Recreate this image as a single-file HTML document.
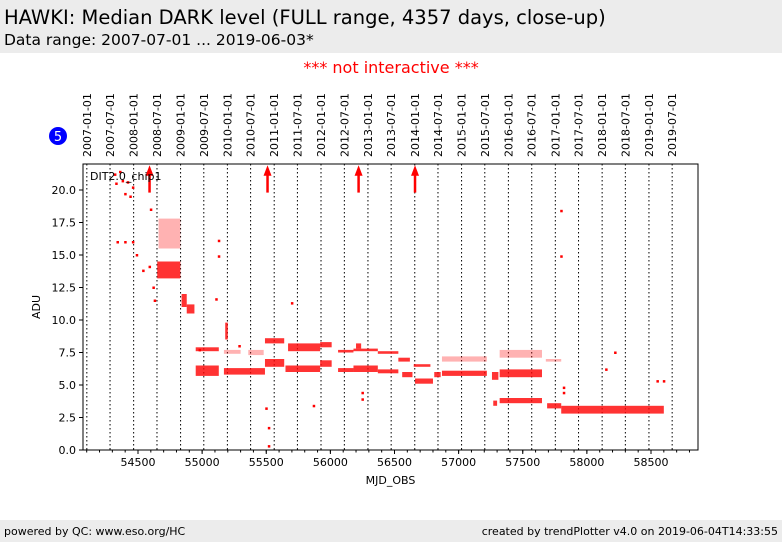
<!DOCTYPE html>
<html><head><meta charset="utf-8"><style>
body{margin:0;width:782px;height:542px;background:#fff;font-family:"DejaVu Sans","Liberation Sans",sans-serif;position:relative;overflow:hidden}
.hdr{position:absolute;left:0;top:0;width:782px;height:53px;background:#ececec}
.ftr{position:absolute;left:0;top:520px;width:782px;height:22px;background:#ececec;font-size:11px}
</style></head><body>
<div class="hdr">
<div style="position:absolute;left:4px;top:6px;font-size:19.5px">HAWKI: Median DARK level (FULL range, 4357 days, close-up)</div>
<div style="position:absolute;left:4px;top:31px;font-size:15.5px">Data range: 2007-07-01 ... 2019-06-03*</div>
</div>
<div style="position:absolute;left:0;width:782px;text-align:center;top:58px;font-size:16px;color:#f00">*** not interactive ***</div>
<div class="ftr">
<span style="position:absolute;left:4px;top:5px">powered by QC: www.eso.org/HC</span>
<span style="position:absolute;right:4px;top:5px">created by trendPlotter v4.0 on 2019-06-04T14:33:55</span>
</div>
<svg id="chart" width="782" height="542" style="position:absolute;left:0;top:0"></svg>
<script>
const yTicks=[0,2.5,5,7.5,10,12.5,15,17.5,20];
const xTicks=[54500,55000,55500,56000,56500,57000,57500,58000,58500];
const dateLabels=["2007-01-01","2007-07-01","2008-01-01","2008-07-01","2009-01-01","2009-07-01","2010-01-01","2010-07-01","2011-01-01","2011-07-01","2012-01-01","2012-07-01","2013-01-01","2013-07-01","2014-01-01","2014-07-01","2015-01-01","2015-07-01","2016-01-01","2016-07-01","2017-01-01","2017-07-01","2018-01-01","2018-07-01","2019-01-01","2019-07-01"];
// band clusters of data: start MJD, end MJD, low ADU, high ADU, density
const bandStart=[54650,54660,54840,54880,54950,54950,55180,55170,55170,55360,55490,55490,55650,55670,55920,55920,56060,56060,56200,56180,56180,56370,56370,56530,56560,56660,56650,56810,56870,56870,57260,57270,57320,57320,57320,57690,57680,57800];
const bandEnd=  [54830,54830,54880,54940,55130,55130,55200,55300,55490,55480,55640,55640,55920,55920,56010,56010,56180,56180,56240,56370,56370,56530,56530,56620,56640,56800,56780,56860,57220,57220,57310,57300,57650,57650,57650,57800,57800,58600];
const bandLow=  [13.2,15.5,11.0,10.5,7.6,5.7,8.5,7.4,5.8,7.3,6.4,8.2,6.0,7.6,6.4,7.9,6.0,7.5,7.8,6.0,7.6,5.9,7.4,6.8,5.6,5.1,6.4,5.6,5.7,6.8,5.4,3.4,7.1,5.6,3.6,3.2,6.8,2.8];
const bandHigh= [14.5,17.8,12.0,11.2,7.9,6.5,9.8,7.7,6.3,7.7,7.0,8.6,6.5,8.2,6.9,8.3,6.3,7.7,8.2,6.5,7.8,6.2,7.6,7.1,6.0,5.5,6.6,6.0,6.1,7.2,6.0,3.8,7.7,6.2,4.0,3.6,7.0,3.4];
const bandDense=[1,0,1,1,1,1,1,0,1,0,1,1,1,1,1,1,1,1,1,1,1,1,1,1,1,1,1,1,1,0,1,1,0,1,1,1,0,1];
const ptMjd=[54320,54330,54360,54380,54400,54420,54440,54460,54340,54400,54460,54490,54540,54590,54600,54620,54630,55130,55130,55110,55520,55520,55500,56250,56250,57800,57800,57820,57820,58150,58220,58550,58600,55700,55870,54980,55290];
const ptAdu=[21.2,20.5,21.4,20.7,19.7,20.6,19.5,20.2,16,16,16,15,13.8,14.1,18.5,12.5,11.5,16.1,14.9,11.6,0.3,1.7,3.2,4.4,3.9,18.4,14.9,4.8,4.4,6.2,7.5,5.3,5.3,11.3,3.4,7.7,8.0];
const arrowMjd=[54590,55510,56220,56660];

const NS="http://www.w3.org/2000/svg",svg=document.getElementById('chart');
const L=83,R=698,T=164,B=450;
function X(m){return 138+(m-54500)*0.12825;}
function Y(v){return 450-v*13;}
function el(t,a,p){const e=document.createElementNS(NS,t);for(const k in a)e.setAttribute(k,a[k]);(p||svg).appendChild(e);return e;}
function mjd(s){const p=s.split('-');return Date.UTC(+p[0],+p[1]-1,+p[2])/86400000+40587;}
dateLabels.forEach(d=>{const x=X(mjd(d));
 const ln=el('line',{x1:x,x2:x,y1:T,y2:B,stroke:'#000','stroke-width':1,'stroke-dasharray':'1.5,2.5'});
 
 
 const t=el('text',{x:0,y:0,transform:`translate(${x+4},157) rotate(-90)`,'font-size':11,'font-family':'DejaVu Sans, sans-serif'});
 t.textContent=d;
 
 
});
bandStart.forEach((s,i)=>{
 const r=el('rect',{x:X(s),y:Y(bandHigh[i]),width:Math.max(2,X(bandEnd[i])-X(s)),height:Math.max(2,Y(bandLow[i])-Y(bandHigh[i])),fill:'#f00',opacity:bandDense[i]?0.8:0.3});
 
 
});
ptMjd.forEach((m,i)=>{
 const c=el('rect',{x:X(m)-1,y:Y(ptAdu[i])-1,width:2.5,height:2.5,fill:'#f00'});
 
 
});
arrowMjd.forEach(m=>{const x=X(m);
 const g=el('g',{});
 
 
 el('line',{x1:x,x2:x,y1:Y(19.8),y2:Y(21.2),stroke:'#f00','stroke-width':2.5},g);
 el('polygon',{points:`${x-4},${Y(21.1)} ${x+4},${Y(21.1)} ${x},${Y(21.9)}`,fill:'#f00'},g);
});
const f=el('rect',{x:L,y:T,width:R-L,height:B-T,fill:'none',stroke:'#000','stroke-width':1});


yTicks.forEach(v=>{const y=Y(v);
 el('line',{x1:L-4,x2:L,y1:y,y2:y,stroke:'#000'});
 const t=el('text',{x:L-7,y:y+4,'text-anchor':'end','font-size':11,'font-family':'DejaVu Sans, sans-serif'});
 t.textContent=v.toFixed(1);
 
 
});
for(let m=54100;m<=58800;m+=100){const x=X(m);if(x<L||x>R)continue;el('line',{x1:x,x2:x,y1:B,y2:B+2.5,stroke:'#000'});}
xTicks.forEach(v=>{const x=X(v);
 el('line',{x1:x,x2:x,y1:B,y2:B+4,stroke:'#000'});
 const t=el('text',{x:x,y:B+16,'text-anchor':'middle','font-size':11,'font-family':'DejaVu Sans, sans-serif'});
 t.textContent=v;
 
 
});
const xt=el('text',{x:(L+R)/2,y:484,'text-anchor':'middle','font-size':11,'font-family':'DejaVu Sans, sans-serif'});
xt.textContent='MJD_OBS';


const yt=el('text',{x:0,y:0,transform:'translate(40,307) rotate(-90)','text-anchor':'middle','font-size':11,'font-family':'DejaVu Sans, sans-serif'});
yt.textContent='ADU';


const lg=el('text',{x:90,y:180,'font-size':11,'font-family':'DejaVu Sans, sans-serif'});
lg.textContent='DIT2.0_chip1';


const bc=el('circle',{cx:58,cy:136,r:9,fill:'#00f'});


const bt=el('text',{x:58,y:141,'text-anchor':'middle','font-size':13,fill:'#fff','font-family':'DejaVu Sans, sans-serif'});
bt.textContent='5';


</script>
</body></html>
